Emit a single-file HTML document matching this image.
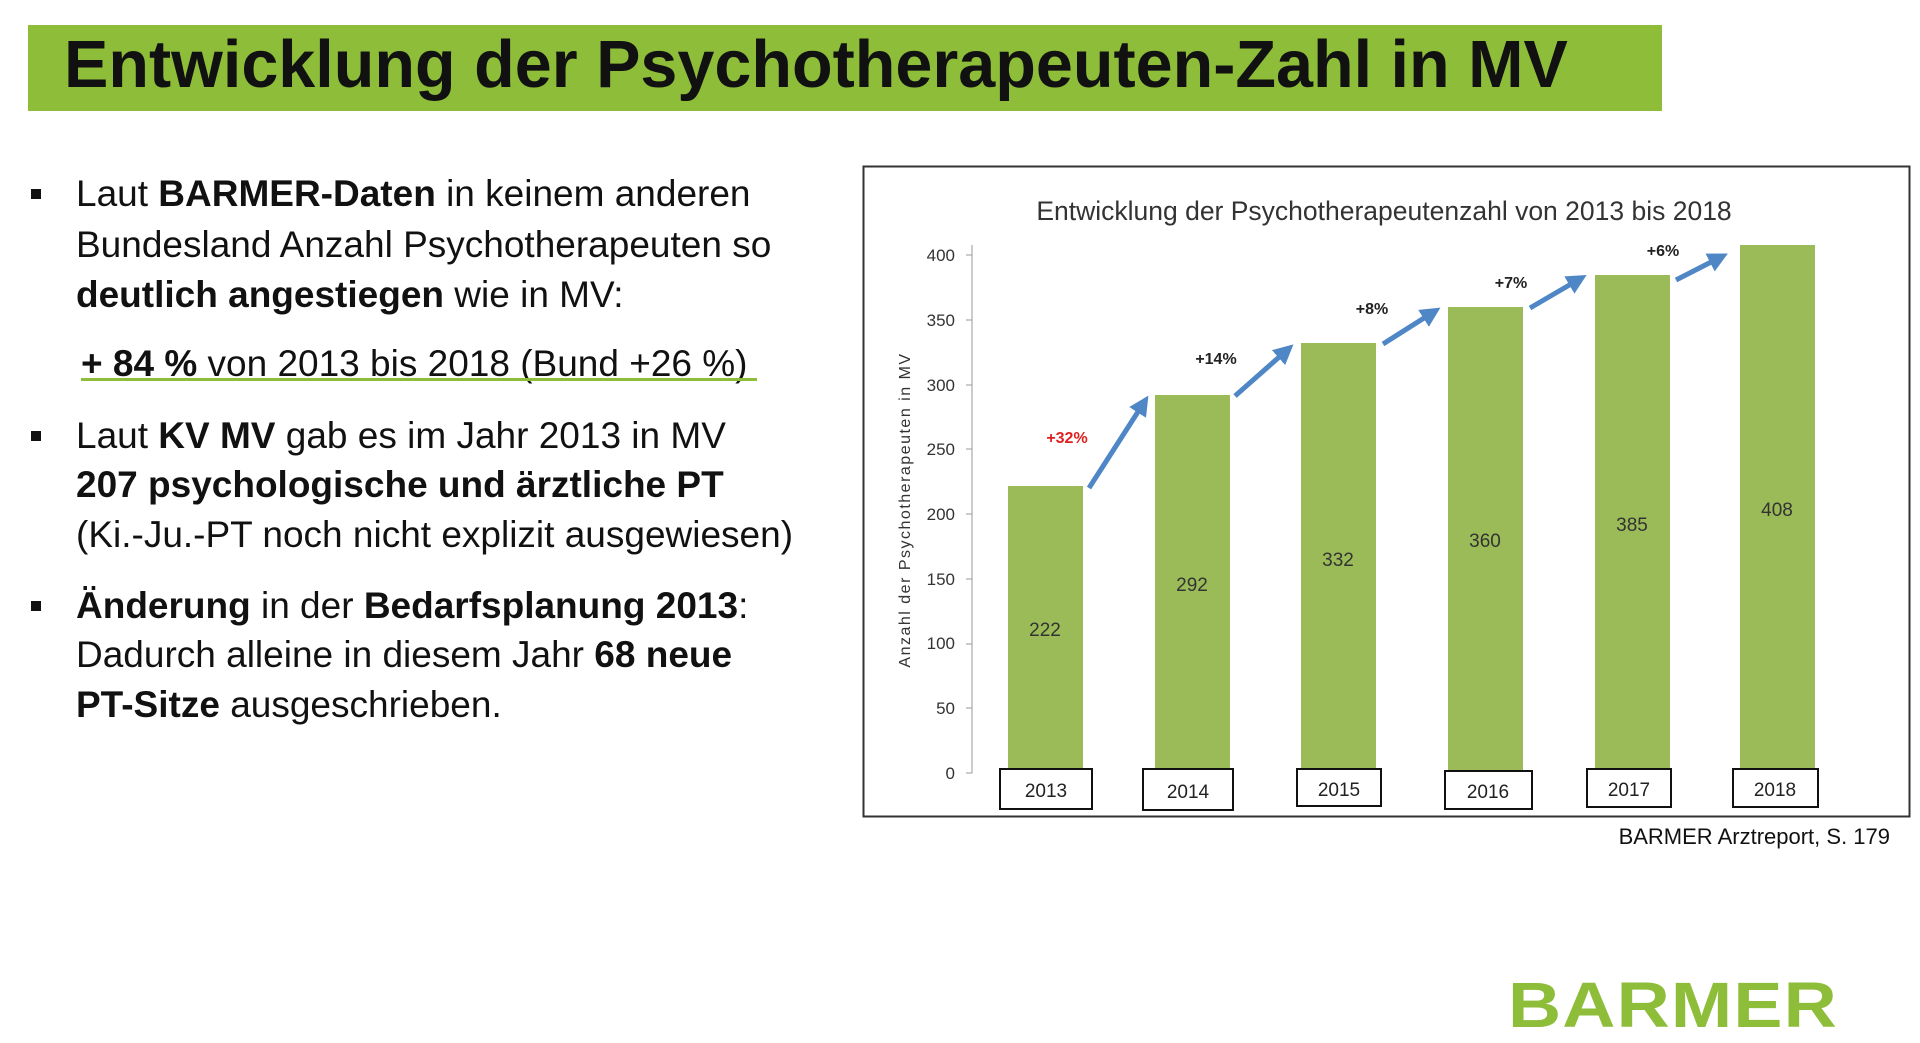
<!DOCTYPE html>
<html><head><meta charset="utf-8"><style>
body{margin:0;width:1920px;height:1043px;background:#fff;position:relative;overflow:hidden;font-family:"Liberation Sans",sans-serif;color:#111}
.hdr{position:absolute;left:28px;top:25px;width:1634px;height:86px;background:#8ebd3a}
.ttl{position:absolute;left:64px;top:22px;font-size:66.5px;font-weight:bold;white-space:nowrap;line-height:86px}
.l{position:absolute;left:76px;font-size:37px;white-space:nowrap;line-height:40px}
.b{position:absolute;left:31px;width:10px;height:10px;background:#111}
.src{position:absolute;right:30px;top:824px;font-size:22px}
.logo{position:absolute;left:1508px;top:968px;font-size:64px;font-weight:bold;color:#8ebd3a;transform:scaleX(1.15);transform-origin:left top;letter-spacing:1px}
</style></head><body>
<div class="hdr"></div>
<div class="ttl">Entwicklung der Psychotherapeuten-Zahl in MV</div>

<div class="b" style="top:189px"></div>
<div class="l" style="top:174px">Laut <b>BARMER-Daten</b> in keinem anderen</div>
<div class="l" style="top:225px">Bundesland Anzahl Psychotherapeuten so</div>
<div class="l" style="top:275px"><b>deutlich angestiegen</b> wie in MV:</div>
<div class="l" style="top:344px;left:81px"><b>+ 84 %</b> von 2013 bis 2018 (Bund +26 %)</div>
<div style="position:absolute;left:81px;top:378px;width:676px;height:3px;background:#8ebd3a"></div>
<div class="b" style="top:431px"></div>
<div class="l" style="top:416px">Laut <b>KV MV</b> gab es im Jahr 2013 in MV</div>
<div class="l" style="top:465px"><b>207 psychologische und ärztliche PT</b></div>
<div class="l" style="top:515px">(Ki.-Ju.-PT noch nicht explizit ausgewiesen)</div>
<div class="b" style="top:601px"></div>
<div class="l" style="top:586px"><b>Änderung</b> in der <b>Bedarfsplanung 2013</b>:</div>
<div class="l" style="top:635px">Dadurch alleine in diesem Jahr <b>68 neue</b></div>
<div class="l" style="top:685px"><b>PT-Sitze</b> ausgeschrieben.</div>

<svg style="position:absolute;left:0;top:0" width="1920" height="1043">
<defs><marker id="ah" markerWidth="4" markerHeight="4" refX="2" refY="2" orient="auto"><path d="M0,0L4,2L0,4z" fill="#4f86c6"/></marker></defs>
<rect x="863.5" y="166.5" width="1046" height="650" fill="#fff" stroke="#333" stroke-width="2"/>
<text x="1384" y="220" font-size="26.5" text-anchor="middle" fill="#333" font-family="Liberation Sans">Entwicklung der Psychotherapeutenzahl von 2013 bis 2018</text>
<line x1="972" y1="245" x2="972" y2="773" stroke="#999"/>
<g font-size="17" fill="#333" text-anchor="end" font-family="Liberation Sans">
<text x="955" y="779">0</text><text x="955" y="714">50</text><text x="955" y="649">100</text><text x="955" y="585">150</text><text x="955" y="520">200</text><text x="955" y="455">250</text><text x="955" y="391">300</text><text x="955" y="326">350</text><text x="955" y="261">400</text>
</g>
<g stroke="#999"><line x1="966" x2="972" y1="773" y2="773"/><line x1="966" x2="972" y1="708" y2="708"/><line x1="966" x2="972" y1="644" y2="644"/><line x1="966" x2="972" y1="579" y2="579"/><line x1="966" x2="972" y1="514" y2="514"/><line x1="966" x2="972" y1="449" y2="449"/><line x1="966" x2="972" y1="385" y2="385"/><line x1="966" x2="972" y1="320" y2="320"/><line x1="966" x2="972" y1="255" y2="255"/></g>
<text transform="translate(910,510) rotate(-90)" font-size="16" fill="#333" text-anchor="middle" letter-spacing="1.5" font-family="Liberation Sans">Anzahl der Psychotherapeuten in MV</text>
<g fill="#9bbb59">
<rect x="1008" y="486" width="75" height="287"/>
<rect x="1155" y="395" width="75" height="378"/>
<rect x="1301" y="343" width="75" height="430"/>
<rect x="1448" y="307" width="75" height="466"/>
<rect x="1595" y="275" width="75" height="498"/>
<rect x="1740" y="245" width="75" height="528"/>
</g>
<g font-size="19" fill="#333" text-anchor="middle" font-family="Liberation Sans">
<text x="1045" y="636">222</text><text x="1192" y="591">292</text><text x="1338" y="566">332</text><text x="1485" y="547">360</text><text x="1632" y="531">385</text><text x="1777" y="516">408</text>
</g>
<g fill="#fff" stroke="#111" stroke-width="2">
<rect x="1000" y="769" width="92" height="40"/><rect x="1143" y="769" width="90" height="41"/><rect x="1297" y="769" width="84" height="37"/><rect x="1445" y="771" width="87" height="38"/><rect x="1587" y="769" width="84" height="38"/><rect x="1733" y="769" width="85" height="38"/>
</g>
<g font-size="19" fill="#222" text-anchor="middle" font-family="Liberation Sans">
<text x="1046" y="797">2013</text><text x="1188" y="798">2014</text><text x="1339" y="796">2015</text><text x="1488" y="798">2016</text><text x="1629" y="796">2017</text><text x="1775" y="796">2018</text>
</g>
<g stroke="#4f86c6" stroke-width="5" marker-end="url(#ah)">
<line x1="1089" y1="488" x2="1143" y2="404"/>
<line x1="1235" y1="396" x2="1286" y2="351"/>
<line x1="1383" y1="344" x2="1432" y2="313"/>
<line x1="1530" y1="308" x2="1578" y2="280"/>
<line x1="1676" y1="280" x2="1719" y2="258"/>
</g>
<g font-size="16" font-weight="bold" text-anchor="middle" font-family="Liberation Sans" fill="#222">
<text x="1067" y="443" fill="#e02020">+32%</text><text x="1216" y="364">+14%</text><text x="1372" y="314">+8%</text><text x="1511" y="288">+7%</text><text x="1663" y="256">+6%</text>
</g>
</svg>
<div class="src">BARMER Arztreport, S. 179</div>
<div class="logo">BARMER</div>
</body></html>
